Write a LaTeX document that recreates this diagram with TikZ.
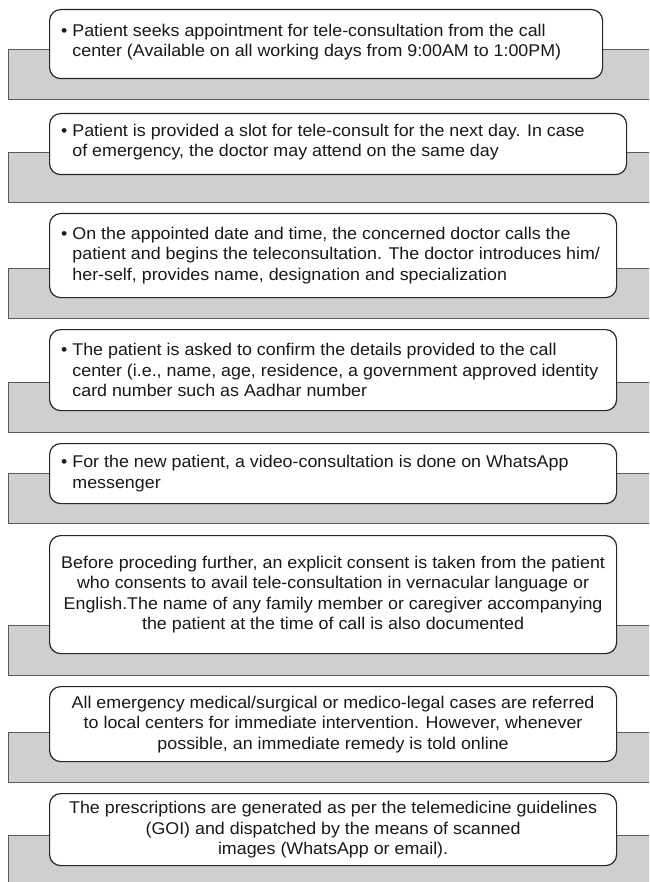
\documentclass[tikz,border=0pt]{standalone}
\usepackage{fontspec}
\setmainfont{Liberation Sans}[FakeStretch=1.05]
\newcommand{\cont}{\phantom{• }}
\begin{document}
\begin{tikzpicture}[x=1pt,y=-1pt,
  graytab/.style={draw=black!65, line width=1.2pt, fill=black!19, rectangle, inner sep=0pt, anchor=north west, minimum height=50pt, minimum width=660pt},
  wbox/.style={draw=black!85, line width=1.2pt, fill=white, rounded corners=11pt, rectangle, inner sep=0pt, anchor=north west},
  txt/.style={inner sep=0pt, font=\fontsize{17}{20.5}\selectfont, text=black!90},
  ltxt/.style={txt, align=left, anchor=west},
  ctxt/.style={txt, align=center}]
\useasboundingbox (0,0) rectangle (649,882);
\clip (0,0) rectangle (649,882);
% 1
\node[graytab] (g1) at (8,49) {};
\node[wbox, minimum width=553pt, minimum height=69pt] (b1) at (49,9) {};
\node[ltxt] (t1) at ([xshift=12pt,yshift=2pt]b1.west) {• Patient seeks appointment for tele-consultation from the call\\ \cont center (Available on all working days from 9:00AM to 1:00PM)};
% 2
\node[graytab] (g2) at (8,152) {};
\node[wbox, minimum width=577pt, minimum height=61pt] (b2) at (49,113) {};
\node[ltxt] (t2) at ([xshift=12pt,yshift=2pt]b2.west) {• Patient is provided a slot for tele-consult for the next day. In case\\ \cont of emergency, the doctor may attend on the same day};
% 3
\node[graytab] (g3) at (8,268) {};
\node[wbox, minimum width=567pt, minimum height=84pt] (b3) at (49,213) {};
\node[ltxt] (t3) at ([xshift=12pt]b3.west) {• On the appointed date and time, the concerned doctor calls the\\ \cont patient and begins the teleconsultation. The doctor introduces him/\\ \cont her-self, provides name, designation and specialization};
% 4
\node[graytab] (g4) at (8,382) {};
\node[wbox, minimum width=567pt, minimum height=81pt] (b4) at (49,329) {};
\node[ltxt] (t4) at ([xshift=12pt]b4.west) {• The patient is asked to confirm the details provided to the call\\ \cont center (i.e., name, age, residence, a government approved identity\\ \cont card number such as Aadhar number};
% 5
\node[graytab] (g5) at (8,473) {};
\node[wbox, minimum width=567pt, minimum height=60pt] (b5) at (49,443) {};
\node[ltxt] (t5) at ([xshift=12pt]b5.west) {• For the new patient, a video-consultation is done on WhatsApp\\ \cont messenger};
% 6
\node[graytab] (g6) at (8,625) {};
\node[wbox, minimum width=567pt, minimum height=118pt] (b6) at (49,535) {};
\node[ctxt] (t6) at (b6.center) {Before proceding further, an explicit consent is taken from the patient\\ who consents to avail tele-consultation in vernacular language or\\ English.The name of any family member or caregiver accompanying\\ the patient at the time of call is also documented};
% 7
\node[graytab] (g7) at (8,732) {};
\node[wbox, minimum width=567pt, minimum height=75pt] (b7) at (49,686) {};
\node[ctxt] (t7) at (b7.center) {All emergency medical/surgical or medico-legal cases are referred\\ to local centers for immediate intervention. However, whenever\\ possible, an immediate remedy is told online};
% 8
\node[graytab] (g8) at (8,835) {};
\node[wbox, minimum width=567pt, minimum height=72pt] (b8) at (49,793) {};
\node[ctxt] (t8) at (b8.center) {The prescriptions are generated as per the telemedicine guidelines\\ (GOI) and dispatched by the means of scanned\\ images (WhatsApp or email).};
\end{tikzpicture}
\end{document}
